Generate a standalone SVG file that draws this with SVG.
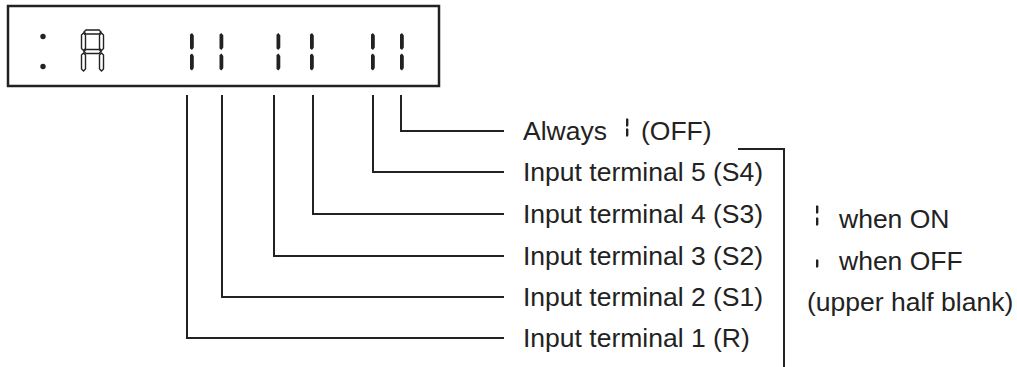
<svg xmlns="http://www.w3.org/2000/svg" xmlns:xlink="http://www.w3.org/1999/xlink" width="1017" height="367" viewBox="0 0 1017 367">
<style>
  .lbl { font-family: "Liberation Sans", Arial, Helvetica, sans-serif; font-size: 26.5px; fill: #222; }
  .ln { fill: none; stroke: #222; stroke-width: 2; }
  .seg { fill: #222; }
  .oseg { fill: #fff; stroke: #222; stroke-width: 1.4; }
</style>
<defs>
  <path id="seg" d="M0,1.5 L2,0 L3.8,2.5 L3.8,14.5 L2,17 L0,15.5 Z"/>
  <path id="sseg" d="M0,1 L1.1,0 L2.4,1.5 L2.4,7.5 L1.1,9 L0,8 Z"/>
</defs>

<g id="display">
  <rect x="8" y="6" width="431" height="80" fill="#fff" stroke="#222" stroke-width="2.5"/>
  <circle cx="43" cy="36.5" r="2.7" fill="#222"/>
  <circle cx="43" cy="66.5" r="2.7" fill="#222"/>
  <g id="charA">
    <polygon class="oseg" points="84,32 86,30 99,30 101,32 99,34 86,34"/>
    <polygon class="oseg" points="83.5,33 85.5,35 85.5,48.5 83.5,50.5 81.5,48.5 81.5,35"/>
    <polygon class="oseg" points="101.5,33 103.5,35 103.5,48.5 101.5,50.5 99.5,48.5 99.5,35"/>
    <polygon class="oseg" points="84,51.5 86,49.5 99,49.5 101,51.5 99,53.5 86,53.5"/>
    <polygon class="oseg" points="83.5,53 85.5,55 85.5,69 83.5,71 81.5,69 81.5,55"/>
    <polygon class="oseg" points="101.5,53 103.5,55 103.5,69 101.5,71 99.5,69 99.5,55"/>
  </g>
  <g id="digits">
    <use xlink:href="#seg" class="seg" x="190" y="33"/><use xlink:href="#seg" class="seg" x="190" y="53.5"/>
    <use xlink:href="#seg" class="seg" x="219.5" y="33"/><use xlink:href="#seg" class="seg" x="219.5" y="53.5"/>
    <use xlink:href="#seg" class="seg" x="276.5" y="33"/><use xlink:href="#seg" class="seg" x="276.5" y="53.5"/>
    <use xlink:href="#seg" class="seg" x="310" y="33"/><use xlink:href="#seg" class="seg" x="310" y="53.5"/>
    <use xlink:href="#seg" class="seg" x="371" y="33"/><use xlink:href="#seg" class="seg" x="371" y="53.5"/>
    <use xlink:href="#seg" class="seg" x="400" y="33"/><use xlink:href="#seg" class="seg" x="400" y="53.5"/>
  </g>
</g>

<g id="connectors">
  <path class="ln" d="M401,95 V131 H504"/>
  <path class="ln" d="M373,95 V172 H504"/>
  <path class="ln" d="M313,95 V214 H504"/>
  <path class="ln" d="M274,95 V256 H504"/>
  <path class="ln" d="M222,95 V297 H504"/>
  <path class="ln" d="M187,95 V338 H504"/>
  <path class="ln" d="M738,149 H784 V367"/>
</g>

<g id="label-always">
  <text class="lbl" x="523" y="140">Always<tspan x="641">(OFF)</tspan></text>
  <use xlink:href="#sseg" class="seg" x="626" y="118"/>
  <use xlink:href="#sseg" class="seg" x="626" y="128"/>
</g>
<g id="label-s4"><text class="lbl" x="523" y="181">Input terminal 5 (S4)</text></g>
<g id="label-s3"><text class="lbl" x="523" y="223">Input terminal 4 (S3)</text></g>
<g id="label-s2"><text class="lbl" x="523" y="265">Input terminal 3 (S2)</text></g>
<g id="label-s1"><text class="lbl" x="523" y="306">Input terminal 2 (S1)</text></g>
<g id="label-r"><text class="lbl" x="523" y="347">Input terminal 1 (R)</text></g>

<g id="legend">
  <use xlink:href="#sseg" class="seg" x="816" y="205"/>
  <use xlink:href="#sseg" class="seg" x="816" y="217"/>
  <text class="lbl" x="839" y="228">when ON</text>
  <use xlink:href="#sseg" class="seg" x="816" y="259"/>
  <text class="lbl" x="839" y="270">when OFF</text>
  <text class="lbl" x="807" y="311">(upper half blank)</text>
</g>
</svg>
